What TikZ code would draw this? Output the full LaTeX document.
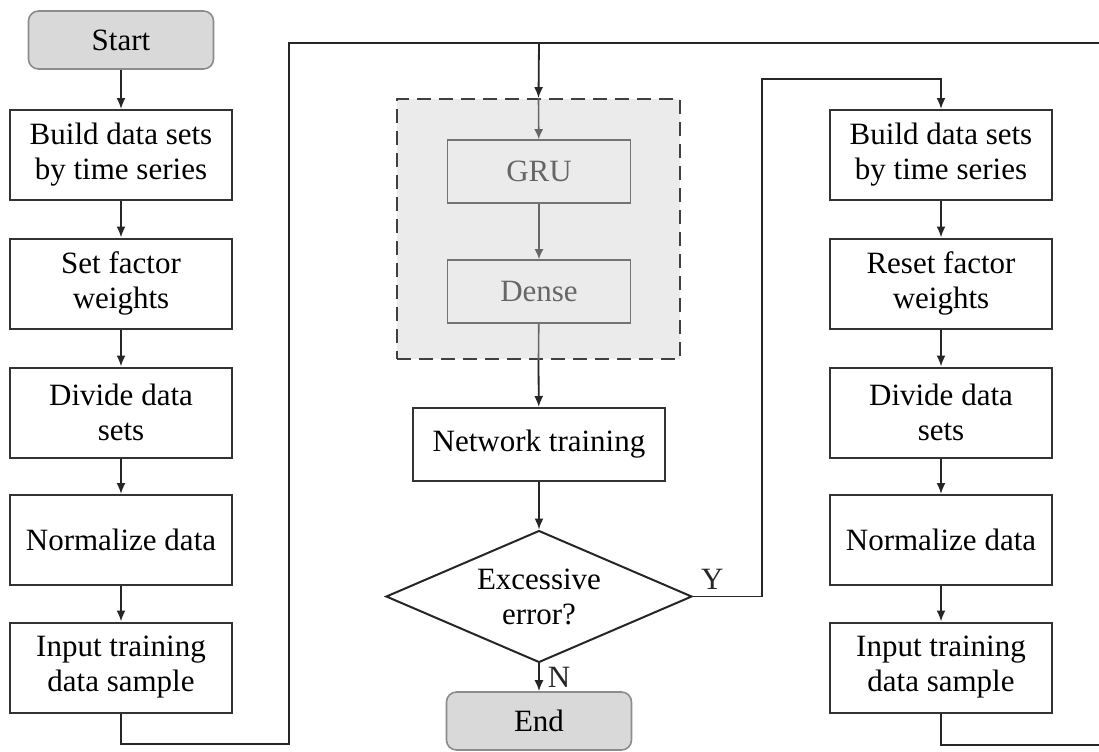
\documentclass[tikz,border=0pt]{standalone}
\usepackage{fontspec}
\setmainfont{Liberation Serif}
\usetikzlibrary{arrows.meta,shapes.geometric}

\tikzset{
  stepbox/.style={draw=black!80, line width=1pt, fill=white, align=center,
    minimum width=111pt, minimum height=45pt, inner sep=2pt},
  termbox/.style={draw=black!45, line width=0.8pt, fill=black!15,
    rounded corners=5pt, minimum width=92.5pt, minimum height=29pt},
  layerbox/.style={draw=black!55, line width=0.8pt, text=black!60,
    minimum width=91.5pt, minimum height=31.5pt},
  modelbox/.style={draw=black!75, line width=0.9pt, fill=black!8,
    dash pattern=on 7pt off 4pt, minimum width=141.5pt, minimum height=130pt},
  checkbox/.style={draw=black!85, line width=1pt, shape=diamond, align=center,
    minimum width=153pt, minimum height=53.5pt, inner sep=-6pt},
  flow/.style={-{Latex[length=5.5pt,width=4.5pt]}, line width=0.9pt, black!85},
  grayflow/.style={-{Latex[length=5pt,width=4.5pt]}, line width=0.8pt, black!60},
}

\begin{document}
\begin{tikzpicture}[x=0.5pt,y=-0.5pt,font=\fontsize{15.5}{17.5}\selectfont]
    \useasboundingbox (0,0) rectangle (1099,751);

    %%%% Left column =================================
    \node[termbox] (start) at (121, 40) {Start};
    \node[stepbox] (lb1) at (121, 155) {Build data sets\\by time series};
    \node[stepbox] (lb2) at (121, 283.5) {Set factor\\weights};
    \node[stepbox] (lb3) at (121, 412.5) {Divide data\\sets};
    \node[stepbox] (lb4) at (121, 540) {Normalize data};
    \node[stepbox] (lb5) at (121, 667.5) {Input training\\data sample};

    \draw[flow] (start) -- (lb1);
    \draw[flow] (lb1) -- (lb2);
    \draw[flow] (lb2) -- (lb3);
    \draw[flow] (lb3) -- (lb4);
    \draw[flow] (lb4) -- (lb5);

    %%%% Middle column ===============================
    \node[modelbox] (model) at (538.5, 229) {};
    \node[layerbox] (gru) at (539, 171.5) {GRU};
    \node[layerbox] (dense) at (539, 291.5) {Dense};
    \node[stepbox,minimum width=126pt,minimum height=36.5pt] (train) at (539, 444.5) {Network training};
    \node[checkbox] (check) at (539, 596.5) {Excessive\\error?};
    \node[termbox] (finish) at (539, 721) {End};

    \draw[grayflow] (model.north) -- (gru);
    \draw[grayflow] (gru) -- (dense);
    \draw[line width=0.8pt,black!60] (dense) -- (model.south);
    \draw[flow] (model.south) -- (train);
    \draw[flow] (train) -- (check);
    \draw[flow] (check) -- node[right,inner sep=4pt] {N} (finish);

    %%%% Right column ================================
    \node[stepbox] (rb1) at (941, 155) {Build data sets\\by time series};
    \node[stepbox] (rb2) at (941, 283.5) {Reset factor\\weights};
    \node[stepbox] (rb3) at (941, 412.5) {Divide data\\sets};
    \node[stepbox] (rb4) at (941, 540) {Normalize data};
    \node[stepbox] (rb5) at (941, 667.5) {Input training\\data sample};

    \draw[flow] (rb1) -- (rb2);
    \draw[flow] (rb2) -- (rb3);
    \draw[flow] (rb3) -- (rb4);
    \draw[flow] (rb4) -- (rb5);

    %%%% Loops =======================================
    \coordinate (lowL) at (289, 744);
    \coordinate (topL) at (289, 43);
    \coordinate (topR) at (1100, 43);
    \coordinate (lowR) at (1100, 745);
    \coordinate (join) at (539, 43);
    \coordinate (yturn) at (762, 79);

    \draw[line width=0.9pt,black!85] (lb5.south) |- (lowL) -- (topL) -- (topR) -- (lowR) -| (rb5.south);
    \draw[flow] (join) -- (model.north);
    \draw[flow] (check.east) -| node[pos=0.14,above,inner sep=3pt] {Y} (yturn) -| (rb1.north);
\end{tikzpicture}
\end{document}
